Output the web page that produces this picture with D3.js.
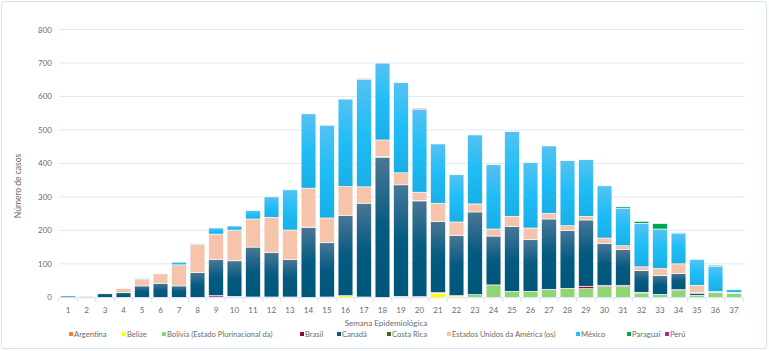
<!DOCTYPE html>
<html>
<head>
<meta charset="utf-8">
<script src="https://cdn.jsdelivr.net/npm/d3@7"></script>
<style>
  body { margin: 0; background: #fff; }
  svg { display: block; font-family: Lato, "Open Sans", sans-serif; }
</style>
</head>
<body>
<svg id="chart" width="769" height="351"></svg>
<script>
const weeks = d3.range(1, 38);

const argentina = [0,0,0,0,0,0,0,0,1,1,1,1,1,0,1,0,1,0,0,0,0,0,0,0,0,0,0,0,0,0,0,0,0,0,0,0,0];
const belize    = [0,0,0,0,0,0,0,0,0,0,0,0,0,0,0,5,0,0,3,0,12,4,0,0,0,0,0,0,0,0,0,0,0,0,0,0,0];
const bolivia   = [0,0,0,0,0,0,0,0,0,0,0,0,0,0,0,0,0,0,0,2,2,1,8,37,18,18,24,26,26,32,32,13,8,20,6,14,12];
const brasil    = [0,0,0,0,0,0,0,0,4,2,0,0,0,0,0,0,0,0,0,0,0,0,0,0,0,0,0,1,7,4,4,2,1,3,0,0,0];
const canada    = [4,3,11,15,34,42,34,74,108,106,149,133,112,209,162,240,280,418,333,286,212,180,247,146,194,154,210,173,198,125,107,65,56,48,5,0,0];
const costaRica = [0,0,0,0,0,0,0,0,0,0,0,0,0,1,0,0,0,2,0,1,0,0,0,0,0,0,0,0,0,0,0,0,0,0,3,0,0];
const eeuu      = [2,1,1,11,19,28,63,84,76,92,84,105,88,116,74,86,49,50,36,25,55,40,24,21,30,35,17,14,11,16,11,11,21,29,22,3,3];
const mexico    = [0,0,0,0,3,0,8,2,18,12,25,61,120,222,277,261,321,230,269,247,177,141,206,192,253,195,201,194,169,156,111,130,118,92,77,76,8];
const paraguay  = [0,0,0,0,0,0,0,0,0,0,0,0,0,0,0,0,0,0,0,0,0,0,0,0,0,0,0,0,0,0,5,6,16,2,0,3,0];
const peru      = [0,0,0,0,0,0,0,0,0,0,0,0,0,0,0,0,2,2,0,3,0,0,0,0,0,0,0,0,0,0,0,0,0,0,0,0,0];

const countries = ["Argentina","Belize","Bolivia (Estado Plurinacional da)","Brasil","Canadá","Costa Rica","Estados Unidos da América (os)","México","Paraguai","Perú"];
const series = [argentina, belize, bolivia, brasil, canada, costaRica, eeuu, mexico, paraguay, peru];
const colors = ["#f47b3e","#ffff00","#8fd672","#a5001f","#045a80","#2f6b21","#f5c4aa","#20bdf6","#00a651","#9c2f9c"];
const yTicks = [0,100,200,300,400,500,600,700,800];

const svg = d3.select("#chart");

svg.append("rect")
  .attr("x", 1.5).attr("y", 1.5)
  .attr("width", 765).attr("height", 347)
  .attr("rx", 3)
  .attr("fill", "#fff")
  .attr("stroke", "#d4e3f3");

// gradients to imitate the spreadsheet look
const defs = svg.append("defs");
function grad(id, top, mid, bottom) {
  const g = defs.append("linearGradient").attr("id", id)
    .attr("x1", 0).attr("y1", 0).attr("x2", 0).attr("y2", 1);
  g.append("stop").attr("offset", "0%").attr("stop-color", top);
  g.append("stop").attr("offset", "50%").attr("stop-color", mid);
  g.append("stop").attr("offset", "100%").attr("stop-color", bottom);
}
grad("g-canada", "#4a7796", "#045a80", "#00557a");
grad("g-mexico", "#55c2f2", "#1fbdf7", "#1aaee6");

const x = d3.scaleBand()
  .domain(weeks)
  .range([58.75, 743.25])
  .paddingInner(0.2)
  .paddingOuter(0.1);

const y = d3.scaleLinear().domain([0, 800]).range([297.3, 29.5]);

// grid
svg.append("g")
  .selectAll("line")
  .data(yTicks.slice(1))
  .join("line")
  .attr("x1", 59).attr("x2", 745)
  .attr("y1", d => y(d)).attr("y2", d => y(d))
  .attr("stroke", "#dce9f6")
  .attr("stroke-width", 1);

// y labels
svg.append("g")
  .selectAll("text")
  .data(yTicks)
  .join("text")
  .attr("x", 52)
  .attr("y", d => y(d) + 3)
  .attr("text-anchor", "end")
  .attr("font-size", 8)
  .attr("fill", "#6b6b6b")
  .text(d => d);

// stacked bars
const rows = weeks.map((w, i) => {
  const r = { week: w };
  countries.forEach((c, k) => r[c] = series[k][i]);
  return r;
});
const stack = d3.stack().keys(countries)(rows);

const fillFor = k => k === 4 ? "url(#g-canada)" : k === 7 ? "url(#g-mexico)" : colors[k];

svg.append("g")
  .selectAll("g")
  .data(stack)
  .join("g")
  .attr("fill", (d, k) => fillFor(k))
  .selectAll("rect")
  .data(d => d.filter(p => p[1] - p[0] > 0))
  .join("rect")
  .attr("x", d => x(d.data.week))
  .attr("y", d => y(d[1]))
  .attr("width", x.bandwidth())
  .attr("height", d => y(d[0]) - y(d[1]))
  .attr("stroke", "#fff")
  .attr("stroke-width", 0.6);

// x axis line and ticks
svg.append("line")
  .attr("x1", 58.75).attr("x2", 743.25)
  .attr("y1", 297.8).attr("y2", 297.8)
  .attr("stroke", "#d4e3f3");
svg.append("g")
  .selectAll("line")
  .data(weeks.concat([38]))
  .join("line")
  .attr("x1", d => 58.75 + (d - 1) * x.step())
  .attr("x2", d => 58.75 + (d - 1) * x.step())
  .attr("y1", 297.8).attr("y2", 302)
  .attr("stroke", "#d4e3f3");

svg.append("g")
  .selectAll("text")
  .data(weeks)
  .join("text")
  .attr("x", d => x(d) + x.bandwidth() / 2)
  .attr("y", 313)
  .attr("text-anchor", "middle")
  .attr("font-size", 8)
  .attr("fill", "#6b6b6b")
  .text(d => d);

// axis titles
svg.append("text")
  .attr("x", 386).attr("y", 326)
  .attr("text-anchor", "middle")
  .attr("font-size", 8)
  .attr("fill", "#6b6b6b")
  .text("Semana Epidemiológica");

svg.append("text")
  .attr("transform", "translate(21,186) rotate(-90)")
  .attr("text-anchor", "middle")
  .attr("font-size", 8.5)
  .attr("fill", "#6b6b6b")
  .text("Número de casos");

// legend
const legendX = [69, 122, 162, 300, 337, 387, 447, 576, 627, 665];
const legend = svg.append("g")
  .selectAll("g")
  .data(countries)
  .join("g")
  .attr("transform", (d, i) => `translate(${legendX[i]},338)`);
legend.append("rect")
  .attr("x", 0).attr("y", -6)
  .attr("width", 4).attr("height", 4)
  .attr("fill", (d, i) => colors[i]);
legend.append("text")
  .attr("x", 5).attr("y", -1)
  .attr("font-size", 7.6)
  .attr("fill", "#6b6b6b")
  .text(d => d);
</script>
</body>
</html>
